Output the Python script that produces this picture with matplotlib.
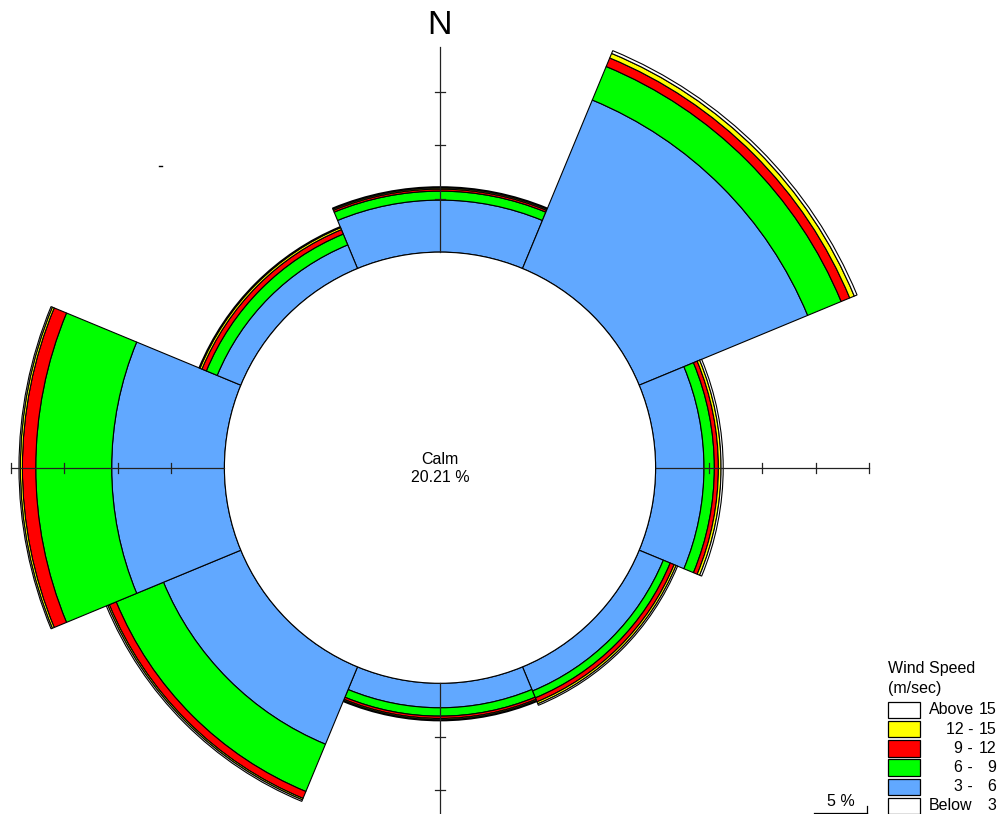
import matplotlib
matplotlib.use("Agg")
import matplotlib.pyplot as plt
from matplotlib.patches import Wedge, Circle, Rectangle
from matplotlib.lines import Line2D
import numpy as np

# ---- data -------------------------------------------------------------
directions = ["N", "NE", "E", "SE", "S", "SW", "W", "NW"]
bearings = [0, 45, 90, 135, 180, 225, 270, 315]
calm_pct = 20.21

# frequency (%) per direction, one list per wind-speed class
ws_3_6 = [4.88, 17.10, 4.54, 2.45, 2.30, 7.85, 10.57, 2.40]
ws_6_9 = [0.84, 3.40, 0.97, 0.70, 0.78, 4.80, 7.12, 1.10]
ws_9_12 = [0.19, 0.87, 0.38, 0.40, 0.22, 0.70, 1.25, 0.45]
ws_12_15 = [0.12, 0.46, 0.25, 0.20, 0.12, 0.15, 0.19, 0.20]
ws_above_15 = [0.10, 0.28, 0.20, 0.15, 0.10, 0.15, 0.13, 0.10]

class_labels = ["Above 15", "12 - 15", "9 - 12", "6 -  9", "3 -  6", "Below  3"]
class_colors = ["#FFFFFF", "#FFFF00", "#FF0000", "#00FF00", "#61A8FF", "#FFFFFF"]

scale_step = 5  # percent per ring tick

# ---- canvas -----------------------------------------------------------
W, H = 1000, 814
cx, cy = 440.0, 467.7          # rose centre in pixels (from top-left)
ppx = 53.333 / scale_step      # pixels per percent

fig = plt.figure(figsize=(W / 100, H / 100), dpi=100)
ax = fig.add_axes([0, 0, 1, 1])
ax.set_xlim(-cx / ppx, (W - cx) / ppx)
ax.set_ylim(-(H - cy) / ppx, cy / ppx)
ax.axis("off")

plt.rcParams["font.family"] = ["Liberation Sans", "DejaVu Sans"]

def fig_xy(px, py):
    return px / W, 1 - py / H

# ---- stacked sectors --------------------------------------------------
stack = [(ws_3_6, "#61A8FF"), (ws_6_9, "#00FF00"), (ws_9_12, "#FF0000"),
         (ws_12_15, "#FFFF00"), (ws_above_15, "#FFFFFF")]
half = 22.5
for i, b in enumerate(bearings):
    base = calm_pct
    t1 = 90 - b - half
    t2 = 90 - b + half
    for vals, col in stack:
        v = vals[i]
        w = Wedge((0, 0), base + v, t1, t2, width=v, facecolor=col,
                  edgecolor="black", linewidth=0.8, zorder=2)
        ax.add_patch(w)
        base += v

# calm circle
ax.add_patch(Circle((0, 0), calm_pct, facecolor="white", edgecolor="black",
                    linewidth=0.8, zorder=3))

# ---- axes cross with ring ticks ---------------------------------------
r_max = calm_pct + 4 * scale_step
r_top = 421 / ppx  # north arm stops below the label
axis_kw = dict(color="#222222", linewidth=0.9, zorder=4)
ax.plot([calm_pct, r_max], [0, 0], **axis_kw)
ax.plot([-calm_pct, -r_max], [0, 0], **axis_kw)
ax.plot([0, 0], [calm_pct, r_top], **axis_kw)
ax.plot([0, 0], [-calm_pct, -r_max], **axis_kw)
tl = 5 / ppx
for k in range(1, 5):
    r = calm_pct + k * scale_step
    ax.plot([r, r], [-tl, tl], **axis_kw)
    ax.plot([-r, -r], [-tl, tl], **axis_kw)
    if r <= r_top:
        ax.plot([-tl, tl], [r, r], **axis_kw)
    ax.plot([-tl, tl], [-r, -r], **axis_kw)

# ---- labels -----------------------------------------------------------
fig.text(*fig_xy(440, 26), "N", ha="center", va="center", fontsize=24.5)
fig.text(*fig_xy(440, 459), "Calm", ha="center", va="center", fontsize=11.5)
fig.text(*fig_xy(440, 477), f"{calm_pct:.2f} %", ha="center", va="center",
         fontsize=11.5)

# stray mark at upper left
fig.add_artist(Line2D([159 / W, 162 / W], [1 - 166 / H, 1 - 166 / H],
                      color="black", linewidth=1))

# ---- legend -----------------------------------------------------------
fs = 11.5
fig.text(*fig_xy(888, 668), "Wind Speed", ha="left", va="center", fontsize=fs)
fig.text(*fig_xy(888, 688), "(m/sec)", ha="left", va="center", fontsize=fs)
box_top0, step, bh, bw, bx = 701.7, 19.2, 16.5, 32, 888
for j, (lab, col) in enumerate(zip(class_labels, class_colors)):
    top = box_top0 + j * step
    x0, y0 = fig_xy(bx, top + bh)
    fig.add_artist(Rectangle((x0, y0), bw / W, bh / H, transform=fig.transFigure,
                             facecolor=col, edgecolor="black", linewidth=0.9))
    yc = top + bh / 2
    if lab.startswith(("Above", "Below")):
        word, num = lab.split()
        fig.text(*fig_xy(929, yc), word, ha="left", va="center", fontsize=fs)
        fig.text(*fig_xy(996, yc), num, ha="right", va="center", fontsize=fs)
    else:
        lo, hi = lab.split("-")
        fig.text(*fig_xy(973, yc), lo.strip() + " -", ha="right", va="center",
                 fontsize=fs)
        fig.text(*fig_xy(996, yc), hi.strip(), ha="right", va="center", fontsize=fs)

# ---- scale bar --------------------------------------------------------
sb_right = 867.3
sb_left = sb_right - scale_step * ppx
sb_y = 812.5
fig.add_artist(Line2D([sb_left / W, sb_right / W], [1 - sb_y / H] * 2,
                      color="black", linewidth=0.9))
fig.add_artist(Line2D([sb_right / W] * 2, [1 - sb_y / H, 1 - 806 / H],
                      color="black", linewidth=0.9))
fig.text(*fig_xy((sb_left + sb_right) / 2, 802), f"{scale_step} %", ha="center",
         va="center", fontsize=fs)

fig.savefig("out.png", dpi=100)
